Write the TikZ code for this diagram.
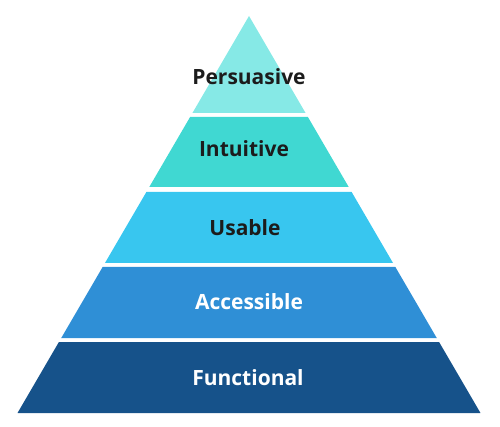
\documentclass[tikz,border=0pt]{standalone}
\usepackage{fontspec}
\setmainfont{Open Sans}
\definecolor{cA}{HTML}{86E9E6}
\definecolor{cB}{HTML}{40D8D2}
\definecolor{cC}{HTML}{38C6EF}
\definecolor{cD}{HTML}{2F8FD6}
\definecolor{cE}{HTML}{16528A}
\definecolor{txt}{HTML}{1C1C1C}
\begin{document}
\begin{tikzpicture}[x=1pt,y=-1pt,
  layer/.style={draw=none},
  lbl/.style={font=\fontsize{21}{24}\selectfont\bfseries, inner sep=0pt, anchor=center}]
\useasboundingbox (0,0) rectangle (500,427);
% apex (249,16), base y=413 from 17 to 480; half-width slope 0.5831
\def\s{0.5831}
\newcommand{\band}[3]{% top y, bottom y, color
  \pgfmathsetmacro{\ta}{249-(#1-16)*\s}\pgfmathsetmacro{\tb}{249+(#1-16)*\s}
  \pgfmathsetmacro{\ba}{249-(#2-16)*\s}\pgfmathsetmacro{\bb}{249+(#2-16)*\s}
  \fill[#3] (\ta,#1) -- (\tb,#1) -- (\bb,#2) -- (\ba,#2) -- cycle;}
\band{16}{113}{cA}
\band{117}{187}{cB}
\band{192}{263}{cC}
\band{267}{338}{cD}
\band{342}{413}{cE}
\node[lbl,text=txt] (p) at (249,76.5) {Persuasive};
\node[lbl,text=txt] (i) at (244,148.5) {Intuitive};
\node[lbl,text=txt] (u) at (245,227.5) {Usable};
\node[lbl,text=white] (a) at (249,301.5) {Accessible};
\node[lbl,text=white] (f) at (248,377.5) {Functional};
\end{tikzpicture}
\end{document}
